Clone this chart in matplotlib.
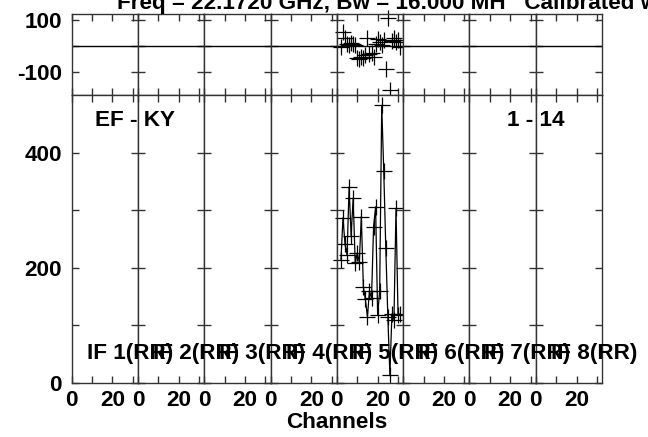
import matplotlib
matplotlib.use("Agg")
import matplotlib.pyplot as plt
import numpy as np

plt.rcParams['font.family'] = ['Liberation Sans', 'DejaVu Sans']
plt.rcParams['font.weight'] = 'bold'

# ---- data ----
n_if = 8
if_labels = ["IF 1(RR)", "IF 2(RR)", "IF 3(RR)", "IF 4(RR)",
             "IF 5(RR)", "IF 6(RR)", "IF 7(RR)", "IF 8(RR)"]
data_if = 4  # IF 5 (0-based)
channels = list(range(2, 32))
amplitude = [213, 287, 241, 222, 340, 255, 321, 208, 226, 210,
             289, 167, 145, 115, 160, 147, 271, 306, 118, 160,
             482, 368, 234, 115, 14, 120, 110, 303, 118, 120]
phase = [-5, 55, 30, 10, 5, 12, 8, 5, -45, -48,
         -42, -45, -35, 30, -30, -25, -40, 10, 28, 15,
         5, 25, -88, 107, -167, 20, 30, 15, 22, -5]
x_ticks = [0, 10, 20, 30]
x_ticklabels = ["0", "", "20", ""]
amp_ticks = [0, 100, 200, 300, 400]
amp_ticklabels = ["0", "", "200", "", "400"]
ph_ticks = [-100, 0, 100]
ph_ticklabels = ["-100", "", "100"]
title = "Freq = 22.1720 GHz, Bw = 16.000 MH   Calibrated with CL 1"
baseline_label = "EF - KY"
time_label = "1 - 14"
xlabel = "Channels"

W = 32.5
W_PX, H_PX = 648, 437
fig = plt.figure(figsize=(W_PX / 100, H_PX / 100), dpi=100)

left, right = 71.7 / W_PX, 602 / W_PX
pw = (right - left) / n_if
top_y0, top_y1 = 1 - 95 / H_PX, 1 - 14 / H_PX
bot_y0, bot_y1 = 1 - 383 / H_PX, 1 - 95 / H_PX

FS = 16.2
axes_top, axes_bot = [], []
for k in range(n_if):
    at = fig.add_axes([left + k * pw, top_y0, pw, top_y1 - top_y0])
    ab = fig.add_axes([left + k * pw, bot_y0, pw, bot_y1 - bot_y0])
    for ax in (at, ab):
        ax.set_xlim(0, W)
        ax.set_xticks(x_ticks)
        ax.tick_params(direction='in', length=5, width=1, top=True, right=True,
                       labelsize=FS, color='#333333')
        for s in ax.spines.values():
            s.set_linewidth(1.0)
            s.set_color('#333333')
    at.set_ylim(-187, 123)
    at.set_yticks(ph_ticks)
    at.axhline(0, color='black', lw=1.0)
    at.set_xticklabels([])
    ab.set_ylim(0, 500)
    ab.set_yticks(amp_ticks)
    ab.set_xticklabels(x_ticklabels, fontsize=FS, fontweight='bold')
    ab.tick_params(axis='x', pad=5)
    if k == 0:
        at.set_yticklabels(ph_ticklabels, fontsize=FS, fontweight='bold')
        ab.set_yticklabels(amp_ticklabels, fontsize=FS, fontweight='bold')
        at.tick_params(axis='y', pad=7)
        ab.tick_params(axis='y', pad=7)
    else:
        at.set_yticklabels([])
        ab.set_yticklabels([])
    axes_top.append(at)
    axes_bot.append(ab)

# data for IF 5
axes_top[data_if].plot(channels, phase, linestyle='none', marker='+',
                       color='black', markersize=12, mew=0.9, clip_on=False)
axes_bot[data_if].plot(channels, amplitude, linestyle='-', lw=0.9, marker='+',
                       color='black', markersize=12, mew=0.9, clip_on=False)

# labels
for k in range(n_if):
    x0 = left + k * pw + 15.0 / W_PX
    fig.text(x0, 1 - 353 / H_PX, if_labels[k], fontsize=FS, fontweight='bold',
             ha='left', va='center')

fig.text(95 / W_PX, 1 - 120 / H_PX, baseline_label, fontsize=FS, fontweight='bold',
         ha='left', va='center')
fig.text(507 / W_PX, 1 - 120 / H_PX, time_label, fontsize=FS, fontweight='bold',
         ha='left', va='center')
fig.text(117 / W_PX, 1 - 8.5 / H_PX, title, fontsize=FS, fontweight='bold',
         ha='left', va='baseline')
fig.text((left + right) / 2, 1 - 422 / H_PX, xlabel, fontsize=FS, fontweight='bold',
         ha='center', va='center')

fig.savefig("out.png", dpi=100)
